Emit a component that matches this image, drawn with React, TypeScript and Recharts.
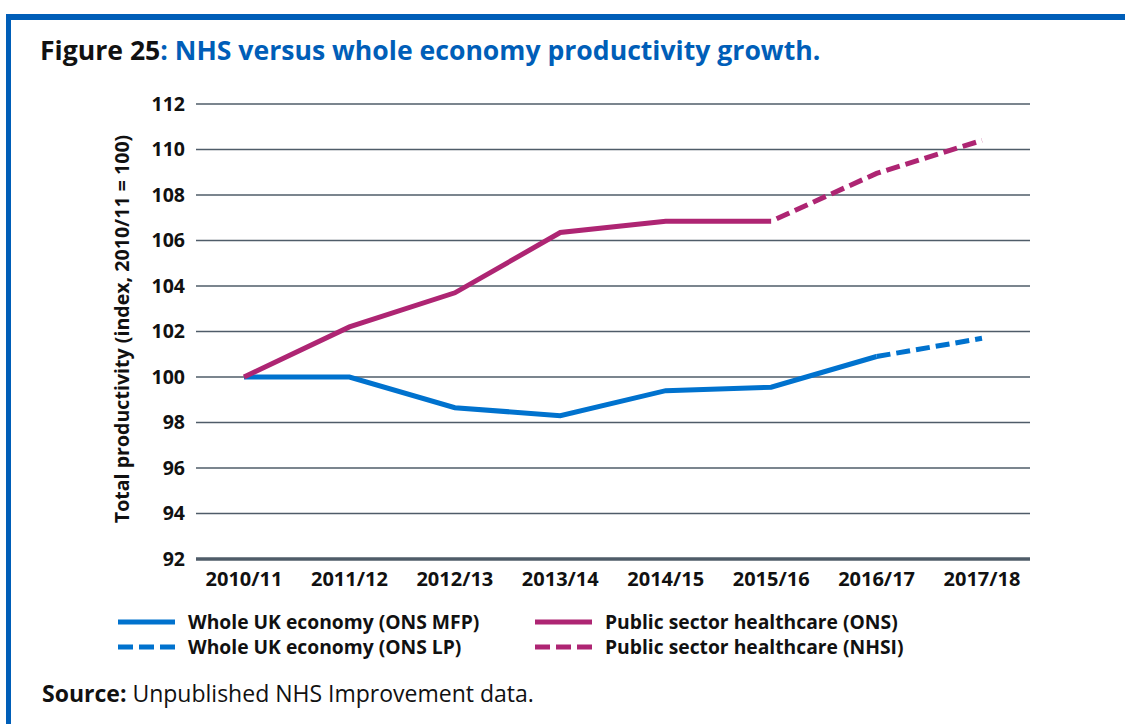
import React from 'react';
import { LineChart, Line, XAxis, YAxis, CartesianGrid } from 'recharts';

const categories = ['2010/11', '2011/12', '2012/13', '2013/14', '2014/15', '2015/16', '2016/17', '2017/18'];
const economyMfp = [100, 100, 98.65, 98.3, 99.4, 99.55, 100.9, null];
const economyLp = [null, null, null, null, null, null, 100.9, 101.7];
const healthOns = [100, 102.2, 103.7, 106.35, 106.85, 106.85, null, null];
const healthNhsi = [null, null, null, null, null, 106.85, 108.95, 110.4];
const yTicks = [92, 94, 96, 98, 100, 102, 104, 106, 108, 110, 112];

const BLUE = '#0072CE';
const PINK = '#AE2573';
const TITLE_BLUE = '#005EB8';
const GRID = '#4f5c69';
const FONT = '"Open Sans", "Noto Sans", sans-serif';

const data = categories.map((c, i) => ({
  cat: c,
  mfp: economyMfp[i],
  lp: economyLp[i],
  ons: healthOns[i],
  nhsi: healthNhsi[i],
}));

const legendItems = [
  { label: 'Whole UK economy (ONS MFP)', color: BLUE, dash: undefined, x: 118, y: 622 },
  { label: 'Whole UK economy (ONS LP)', color: BLUE, dash: '15 6', x: 118, y: 647 },
  { label: 'Public sector healthcare (ONS)', color: PINK, dash: undefined, x: 535, y: 622 },
  { label: 'Public sector healthcare (NHSI)', color: PINK, dash: '15 6', x: 535, y: 647 },
];

const YLabel = () => (
  <text
    x={121}
    y={329}
    transform="rotate(-90 121 329)"
    textAnchor="middle"
    dominantBaseline="central"
    style={{ fontFamily: FONT, fontWeight: 700, fontSize: 19.6, fill: '#111' }}
  >
    Total productivity (index, 2010/11 = 100)
  </text>
);

export default function App() {
  return (
    <div style={{ position: 'absolute', left: 0, top: 0, width: 1125, height: 724, background: '#fff', overflow: 'hidden' }}>
      <div style={{ position: 'absolute', left: 6, top: 14, width: 1119, height: 6, background: TITLE_BLUE }} />
      <div style={{ position: 'absolute', left: 6, top: 14, width: 5, height: 710, background: TITLE_BLUE }} />
      <div
        style={{
          position: 'absolute',
          left: 40,
          top: 32,
          lineHeight: '36px',
          fontFamily: FONT,
          fontWeight: 700,
          fontSize: 26.6,
          whiteSpace: 'nowrap',
          color: '#111',
        }}
      >
        Figure 25<span style={{ color: TITLE_BLUE }}>: NHS versus whole economy productivity growth.</span>
      </div>
      <div style={{ position: 'absolute', left: 0, top: 0 }}>
        <LineChart width={1125} height={724} data={data} margin={{ top: 104, right: 95, bottom: 135, left: 126 }}>
          <CartesianGrid horizontal vertical={false} stroke={GRID} strokeWidth={1.6} />
          <XAxis
            dataKey="cat"
            padding={{ left: 48, right: 48 }}
            axisLine={{ stroke: GRID, strokeWidth: 3.5 }}
            tickLine={false}
            height={30}
            tickMargin={7}
            interval={0}
            tick={{ fontFamily: FONT, fontWeight: 700, fontSize: 20, fill: '#111' }}
          />
          <YAxis
            domain={[92, 112]}
            ticks={yTicks}
            width={70}
            axisLine={false}
            tickLine={false}
            tickSize={0}
            tickMargin={11}
            interval={0}
            tick={{ fontFamily: FONT, fontWeight: 700, fontSize: 19.5, fill: '#111' }}
            label={<YLabel />}
          />
          <Line type="linear" dataKey="mfp" stroke={BLUE} strokeWidth={5} dot={false} isAnimationActive={false} />
          <Line type="linear" dataKey="lp" stroke={BLUE} strokeWidth={5} strokeDasharray="14 6" dot={false} isAnimationActive={false} />
          <Line type="linear" dataKey="ons" stroke={PINK} strokeWidth={5} dot={false} isAnimationActive={false} />
          <Line type="linear" dataKey="nhsi" stroke={PINK} strokeWidth={5} strokeDasharray="14 6" strokeDashoffset={-6} dot={false} isAnimationActive={false} />
        </LineChart>
      </div>
      {legendItems.map((it) => (
        <div key={it.label} style={{ position: 'absolute', left: it.x, top: it.y - 14, height: 28, display: 'flex', alignItems: 'center' }}>
          <svg width={57} height={8} style={{ display: 'block' }}>
            <line x1={0} y1={4} x2={57} y2={4} stroke={it.color} strokeWidth={5} strokeDasharray={it.dash} />
          </svg>
          <span style={{ marginLeft: 13, fontFamily: FONT, fontWeight: 700, fontSize: 19.3, lineHeight: '28px', color: '#111', whiteSpace: 'nowrap' }}>{it.label}</span>
        </div>
      ))}
      <div style={{ position: 'absolute', left: 42, top: 677, lineHeight: '32px', fontFamily: FONT, fontSize: 23, color: '#111', whiteSpace: 'nowrap' }}>
        <span style={{ fontWeight: 700 }}>Source:</span> Unpublished NHS Improvement data.
      </div>
    </div>
  );
}
